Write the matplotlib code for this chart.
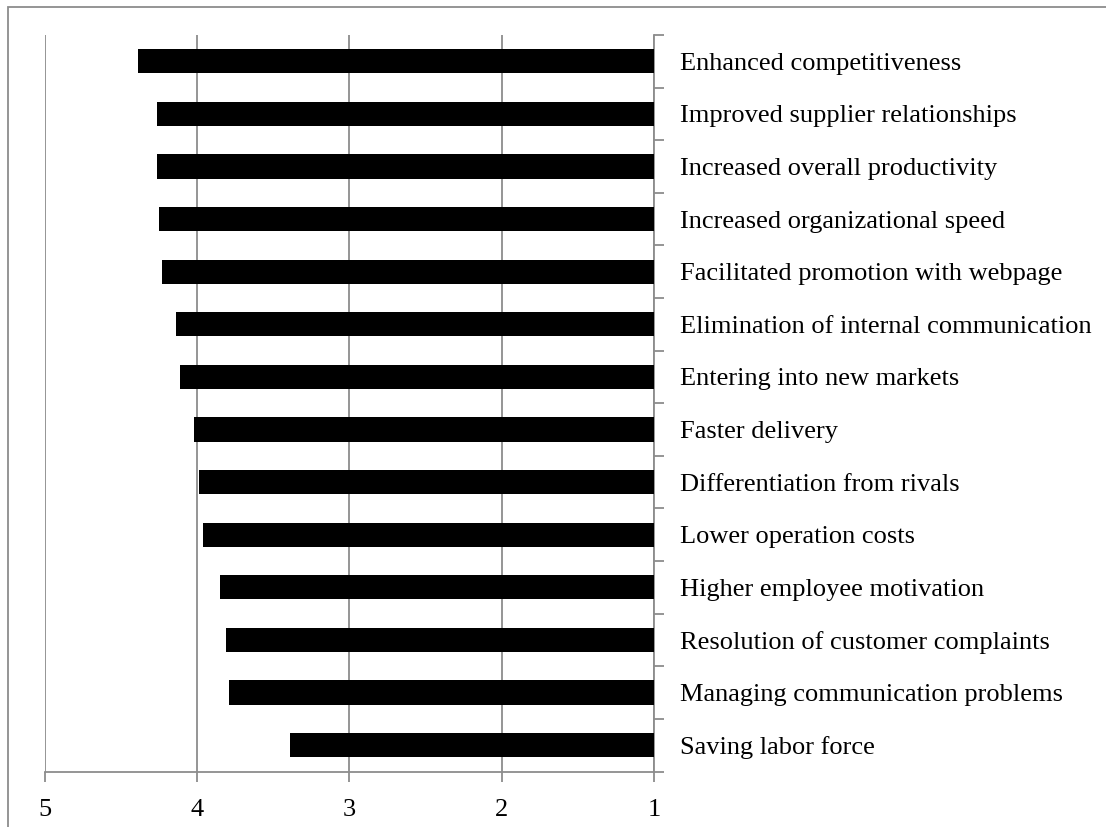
import matplotlib
matplotlib.use("Agg")
import matplotlib.pyplot as plt
from matplotlib.patches import Rectangle
import numpy as np

categories = [
    "Enhanced competitiveness",
    "Improved supplier relationships",
    "Increased overall productivity",
    "Increased organizational speed",
    "Facilitated promotion with webpage",
    "Elimination of internal communication",
    "Entering into new markets",
    "Faster delivery",
    "Differentiation from rivals",
    "Lower operation costs",
    "Higher employee motivation",
    "Resolution of customer complaints",
    "Managing communication problems",
    "Saving labor force",
]
scores = [4.39, 4.26, 4.26, 4.25, 4.23, 4.14, 4.11, 4.02, 3.99, 3.96, 3.85, 3.81, 3.79, 3.39]
x_ticks = [5, 4, 3, 2, 1]

plt.rcParams["font.family"] = ["Liberation Serif", "DejaVu Serif"]

W, H = 1106, 827
fig = plt.figure(figsize=(W / 100, H / 100), dpi=100)

# outer chart-area frame (only its top and left edges fall inside the image)
fig.patches.append(Rectangle((8 / W, -0.2), 1.2, 1.2 - 7 / H, transform=fig.transFigure,
                             fill=False, edgecolor="#8c8c8c", linewidth=1.3))

left, right, top, bottom = 44.7, 654, 35, 771.5
ax = fig.add_axes([left / W, 1 - bottom / H, (right - left) / W, (bottom - top) / H])

n = len(categories)
y = np.arange(n)
base = 1.0
ax.barh(y, [s - base for s in scores], left=base, height=0.46, color="black", zorder=3)

ax.set_xlim(5, 1)
ax.set_ylim(n - 0.5, -0.5)

fs = 19
ax.set_xticks(x_ticks)
ax.set_xticklabels([str(t) for t in x_ticks], fontsize=fs)
ax.xaxis.grid(True, color="#8c8c8c", linewidth=1.3, zorder=0)

# category boundaries as ticks, names at band centres
ax.yaxis.tick_right()
ax.set_yticks(np.arange(-0.5, n, 1.0))
ax.set_yticklabels([])
ax.set_yticks(y, minor=True)
ax.set_yticklabels(categories, minor=True, fontsize=fs)
ax.tick_params(axis="y", which="major", length=7, width=1.3, color="#8c8c8c", direction="out")
ax.tick_params(axis="y", which="minor", length=0, pad=19)
ax.tick_params(axis="x", length=7, width=1.3, color="#8c8c8c", direction="out", pad=13)

for side in ("top", "left"):
    ax.spines[side].set_visible(False)
for side in ("right", "bottom"):
    ax.spines[side].set_color("#8c8c8c")
    ax.spines[side].set_linewidth(1.3)
ax.set_axisbelow(True)

fig.savefig("out.png", dpi=100, facecolor="white")
